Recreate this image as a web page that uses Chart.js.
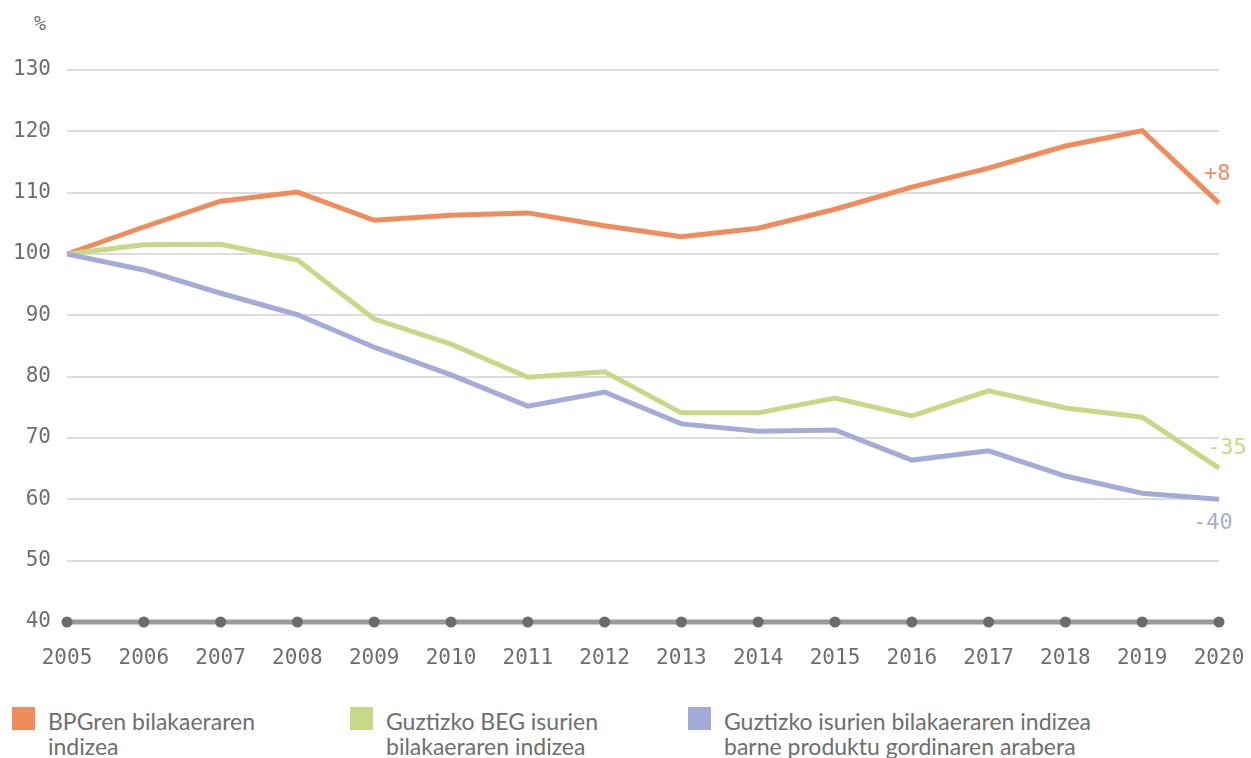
<!DOCTYPE html>
<html>
<head>
<meta charset="utf-8">
<script src="https://cdn.jsdelivr.net/npm/chart.js@4"></script>
<style>
  body { margin: 0; background: #fff; }
  #wrap { position: relative; width: 1251px; height: 690px; }
  .legend { position: relative; width: 1251px; height: 68px; font-family: Lato, 'Open Sans', sans-serif; font-size: 23px; color: #6e6e6e; line-height: 25px; }
  .legend .item { position: absolute; top: 12px; }
  .legend .sw { position: absolute; left: 0; top: 5px; width: 23px; height: 23px; }
  .legend .tx { position: absolute; left: 36px; top: 7px; white-space: nowrap; }
</style>
</head>
<body>
<div id="wrap"><canvas id="chart" width="1251" height="690"></canvas></div>
<div class="legend" id="legend"></div>
<script>
const years = ['2005','2006','2007','2008','2009','2010','2011','2012','2013','2014','2015','2016','2017','2018','2019','2020'];
const gdpIndex = [100, 104.4, 108.6, 110.1, 105.5, 106.3, 106.7, 104.6, 102.8, 104.2, 107.3, 110.9, 114.0, 117.6, 120.1, 108.3];
const ghgIndex = [100, 101.5, 101.6, 99.0, 89.4, 85.3, 79.9, 80.8, 74.1, 74.1, 76.5, 73.6, 77.7, 74.9, 73.4, 65.1];
const intensityIndex = [100, 97.4, 93.6, 90.1, 84.8, 80.3, 75.2, 77.5, 72.3, 71.1, 71.3, 66.4, 67.9, 63.8, 61.0, 60.0];
const baseline = years.map(() => 40);
const seriesNames = [
  ['BPGren bilakaeraren', 'indizea'],
  ['Guztizko BEG isurien', 'bilakaeraren indizea'],
  ['Guztizko isurien bilakaeraren indizea', 'barne produktu gordinaren arabera']
];
const endLabels = ['+8', '-35', '-40'];
const yTicks = [40, 50, 60, 70, 80, 90, 100, 110, 120, 130];

const colors = ['#f08b5c', '#c6d986', '#a5abd8'];
const monoFont = "'DejaVu Sans Mono', 'Liberation Mono', monospace";
const tickColor = '#6e6e6e';

// offsets of the end-of-line labels relative to the last point
const endOffsets = [
  { dx: -15, dy: -29, align: 'left' },
  { dx: -12, dy: -20, align: 'left' },
  { dx: -26, dy: 24, align: 'left' }
];

const extras = {
  id: 'extras',
  afterDatasetsDraw(chart) {
    const ctx = chart.ctx;
    ctx.save();
    ctx.font = '20px ' + monoFont;
    ctx.fillStyle = tickColor;
    ctx.textAlign = 'center';
    ctx.textBaseline = 'middle';
    ctx.fillText('%', 40, 25);

    ctx.font = '22px ' + monoFont;
    [0, 1, 2].forEach(i => {
      const pts = chart.getDatasetMeta(i).data;
      const p = pts[pts.length - 1];
      const o = endOffsets[i];
      ctx.fillStyle = colors[i];
      ctx.textAlign = o.align;
      ctx.fillText(endLabels[i], p.x + o.dx, p.y + o.dy);
    });
    ctx.restore();
  }
};

const lineDs = (data, i) => ({
  label: seriesNames[i].join(' '),
  data: data,
  borderColor: colors[i],
  backgroundColor: colors[i],
  borderWidth: 5,
  pointRadius: 0,
  tension: 0,
  order: 3 - i
});

const chart = new Chart(document.getElementById('chart'), {
  type: 'line',
  data: {
    labels: years,
    datasets: [
      lineDs(gdpIndex, 0),
      lineDs(ghgIndex, 1),
      lineDs(intensityIndex, 2),
      {
        label: 'axis',
        data: baseline,
        borderColor: '#9a9a9a',
        backgroundColor: '#6b6b6b',
        borderWidth: 5,
        pointRadius: 5.5,
        pointBorderWidth: 0,
        tension: 0,
        clip: false,
        order: 10
      }
    ]
  },
  options: {
    responsive: false,
    animation: false,
    events: [],
    layout: { padding: { top: 70, right: 32, left: 0, bottom: 0 } },
    plugins: {
      legend: { display: false },
      tooltip: { enabled: false }
    },
    scales: {
      x: {
        offset: false,
        grid: { display: false, drawTicks: false },
        border: { display: false },
        ticks: {
          color: tickColor,
          font: { family: monoFont, size: 21 },
          padding: 24,
          maxRotation: 0,
          autoSkip: false
        },
        afterFit: s => { s.height = 68; s.paddingRight = 0; s.paddingLeft = 0; }
      },
      y: {
        min: 40,
        max: 130,
        afterBuildTicks: s => { s.ticks = yTicks.map(v => ({ value: v })); },
        grid: { color: '#dcdcdc', lineWidth: 2, drawTicks: false },
        border: { display: false },
        ticks: {
          color: tickColor,
          font: { family: monoFont, size: 21 },
          padding: 16
        },
        afterFit: s => { s.width = 67; }
      }
    }
  },
  plugins: [extras]
});

// html legend with two-line labels
const legendPos = [12, 350, 688];
const legend = document.getElementById('legend');
seriesNames.forEach((lines, i) => {
  const item = document.createElement('div');
  item.className = 'item';
  item.style.left = legendPos[i] + 'px';
  item.innerHTML = '<div class="sw" style="background:' + colors[i] + '"></div>' +
    '<div class="tx">' + lines.join('<br>') + '</div>';
  legend.appendChild(item);
});
</script>
</body>
</html>
